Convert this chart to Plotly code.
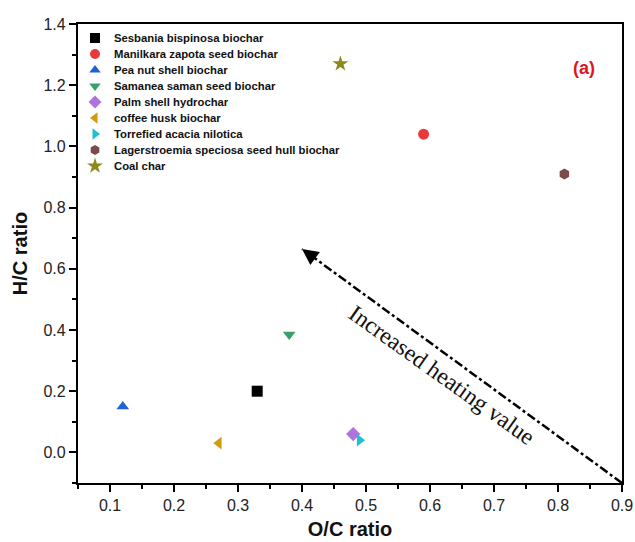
import plotly.graph_objects as go

names = [
    "Sesbania bispinosa biochar",
    "Manilkara zapota seed biochar",
    "Pea nut shell biochar",
    "Samanea saman seed biochar",
    "Palm shell hydrochar",
    "coffee husk biochar",
    "Torrefied acacia nilotica",
    "Lagerstroemia speciosa seed hull biochar",
    "Coal char",
]
oc_ratio = [0.33, 0.59, 0.12, 0.38, 0.48, 0.27, 0.49, 0.81, 0.46]
hc_ratio = [0.20, 1.04, 0.15, 0.385, 0.06, 0.03, 0.04, 0.91, 1.27]
symbols = ["square", "circle", "triangle-up", "triangle-down", "diamond",
           "triangle-left", "triangle-right", "hexagon", "star"]
colors = ["#000000", "#e8393c", "#1f62d6", "#3a9e68", "#b072dc",
          "#d19c0c", "#20c0d0", "#7b4b4c", "#8a8a1e"]

arrow_x = [0.9, 0.40]
arrow_y = [-0.1, 0.665]

x_ticks = [0.1, 0.2, 0.3, 0.4, 0.5, 0.6, 0.7, 0.8, 0.9]
y_ticks = [0.0, 0.2, 0.4, 0.6, 0.8, 1.0, 1.2, 1.4]

# plot area in pixels (for the in-plot legend layout)
W, H = 635, 542
ML, MR, MT, MB = 78, 13, 24, 59
PW, PH = W - ML - MR, H - MT - MB

fig = go.Figure()
for n, xv, yv, s, c in zip(names, oc_ratio, hc_ratio, symbols, colors):
    fig.add_trace(go.Scatter(
        x=[xv], y=[yv], mode="markers", name=n, showlegend=False,
        marker=dict(symbol=s, color=c, size=11 if s != "star" else 12,
                    line=dict(width=0), opacity=1),
    ))

# custom legend (16 px row spacing like the original)
leg_mx = (95 - ML) / PW
leg_tx = (112 - ML) / PW
leg_rows = [(H - MB - (38 + 16 * i)) / PH for i in range(len(names))]
fig.add_trace(go.Scatter(
    x=[leg_mx] * len(names), y=leg_rows, xaxis="x2", yaxis="y2",
    mode="markers", showlegend=False, hoverinfo="skip",
    marker=dict(symbol=symbols, color=colors, opacity=1,
                size=[10 if s != "star" else 12 for s in symbols],
                line=dict(width=0)),
))
for n, ry in zip(names, leg_rows):
    fig.add_annotation(x=leg_tx, y=ry, xref="x2", yref="y2", text=n,
                       showarrow=False, xanchor="left", yanchor="middle",
                       font=dict(family="Liberation Sans, Arial", size=11.3,
                                 color="#111", weight="bold"))

# dash-dot arrow shaft
fig.add_trace(go.Scatter(
    x=arrow_x, y=arrow_y, mode="lines", showlegend=False,
    line=dict(color="black", width=2.5, dash="dashdot"), hoverinfo="skip",
))
# arrow head
hx, hy = arrow_x[1], arrow_y[1]
tx = hx + (arrow_x[0] - hx) * 0.04
ty = hy + (arrow_y[0] - hy) * 0.04
fig.add_annotation(x=hx, y=hy, ax=tx, ay=ty, xref="x", yref="y",
                   axref="x", ayref="y", showarrow=True, arrowhead=2,
                   arrowsize=1.3, arrowwidth=2.5, arrowcolor="black", text="")

fig.add_annotation(x=0.619, y=0.253, xref="x", yref="y", showarrow=False,
                   text="Increased heating value", textangle=35.5,
                   font=dict(family="Liberation Serif, Times New Roman, serif",
                             size=23.5, color="#111"))
fig.add_annotation(x=0.84, y=1.255, xref="x", yref="y", showarrow=False,
                   text="<b>(a)</b>",
                   font=dict(family="Liberation Sans, Arial", size=18, color="#e0141c"))

axis_common = dict(
    showline=True, linecolor="black", linewidth=2.2, mirror=True,
    ticks="outside", ticklen=7, tickwidth=2, tickcolor="black",
    showgrid=False, zeroline=False, automargin=False,
    tickfont=dict(family="Liberation Sans, Arial", size=16, color="#222"),
)

fig.update_layout(
    width=W, height=H,
    margin=dict(l=ML, r=MR, t=MT, b=MB),
    plot_bgcolor="white", paper_bgcolor="white",
    showlegend=False,
    xaxis=dict(range=[0.05, 0.9], tickvals=x_ticks,
               ticktext=[f"{v:.1f}" for v in x_ticks],
               minor=dict(dtick=0.05, tick0=0.05, ticks="outside", ticklen=4,
                          tickwidth=2, tickcolor="black"),
               title=dict(text="<b>O/C ratio</b>", standoff=9,
                          font=dict(family="Liberation Sans, Arial", size=20, color="#111")),
               **axis_common),
    yaxis=dict(range=[-0.1, 1.4], tickvals=y_ticks,
               ticktext=[f"{v:.1f}" for v in y_ticks],
               minor=dict(dtick=0.1, tick0=0.1, ticks="outside", ticklen=4,
                          tickwidth=2, tickcolor="black"),
               title=dict(text="<b>H/C ratio</b>", standoff=10,
                          font=dict(family="Liberation Sans, Arial", size=20, color="#111")),
               **axis_common),
    xaxis2=dict(overlaying="x", range=[0, 1], visible=False, anchor="y2"),
    yaxis2=dict(overlaying="y", range=[0, 1], visible=False, anchor="x2"),
)

fig.write_html("out.html")
